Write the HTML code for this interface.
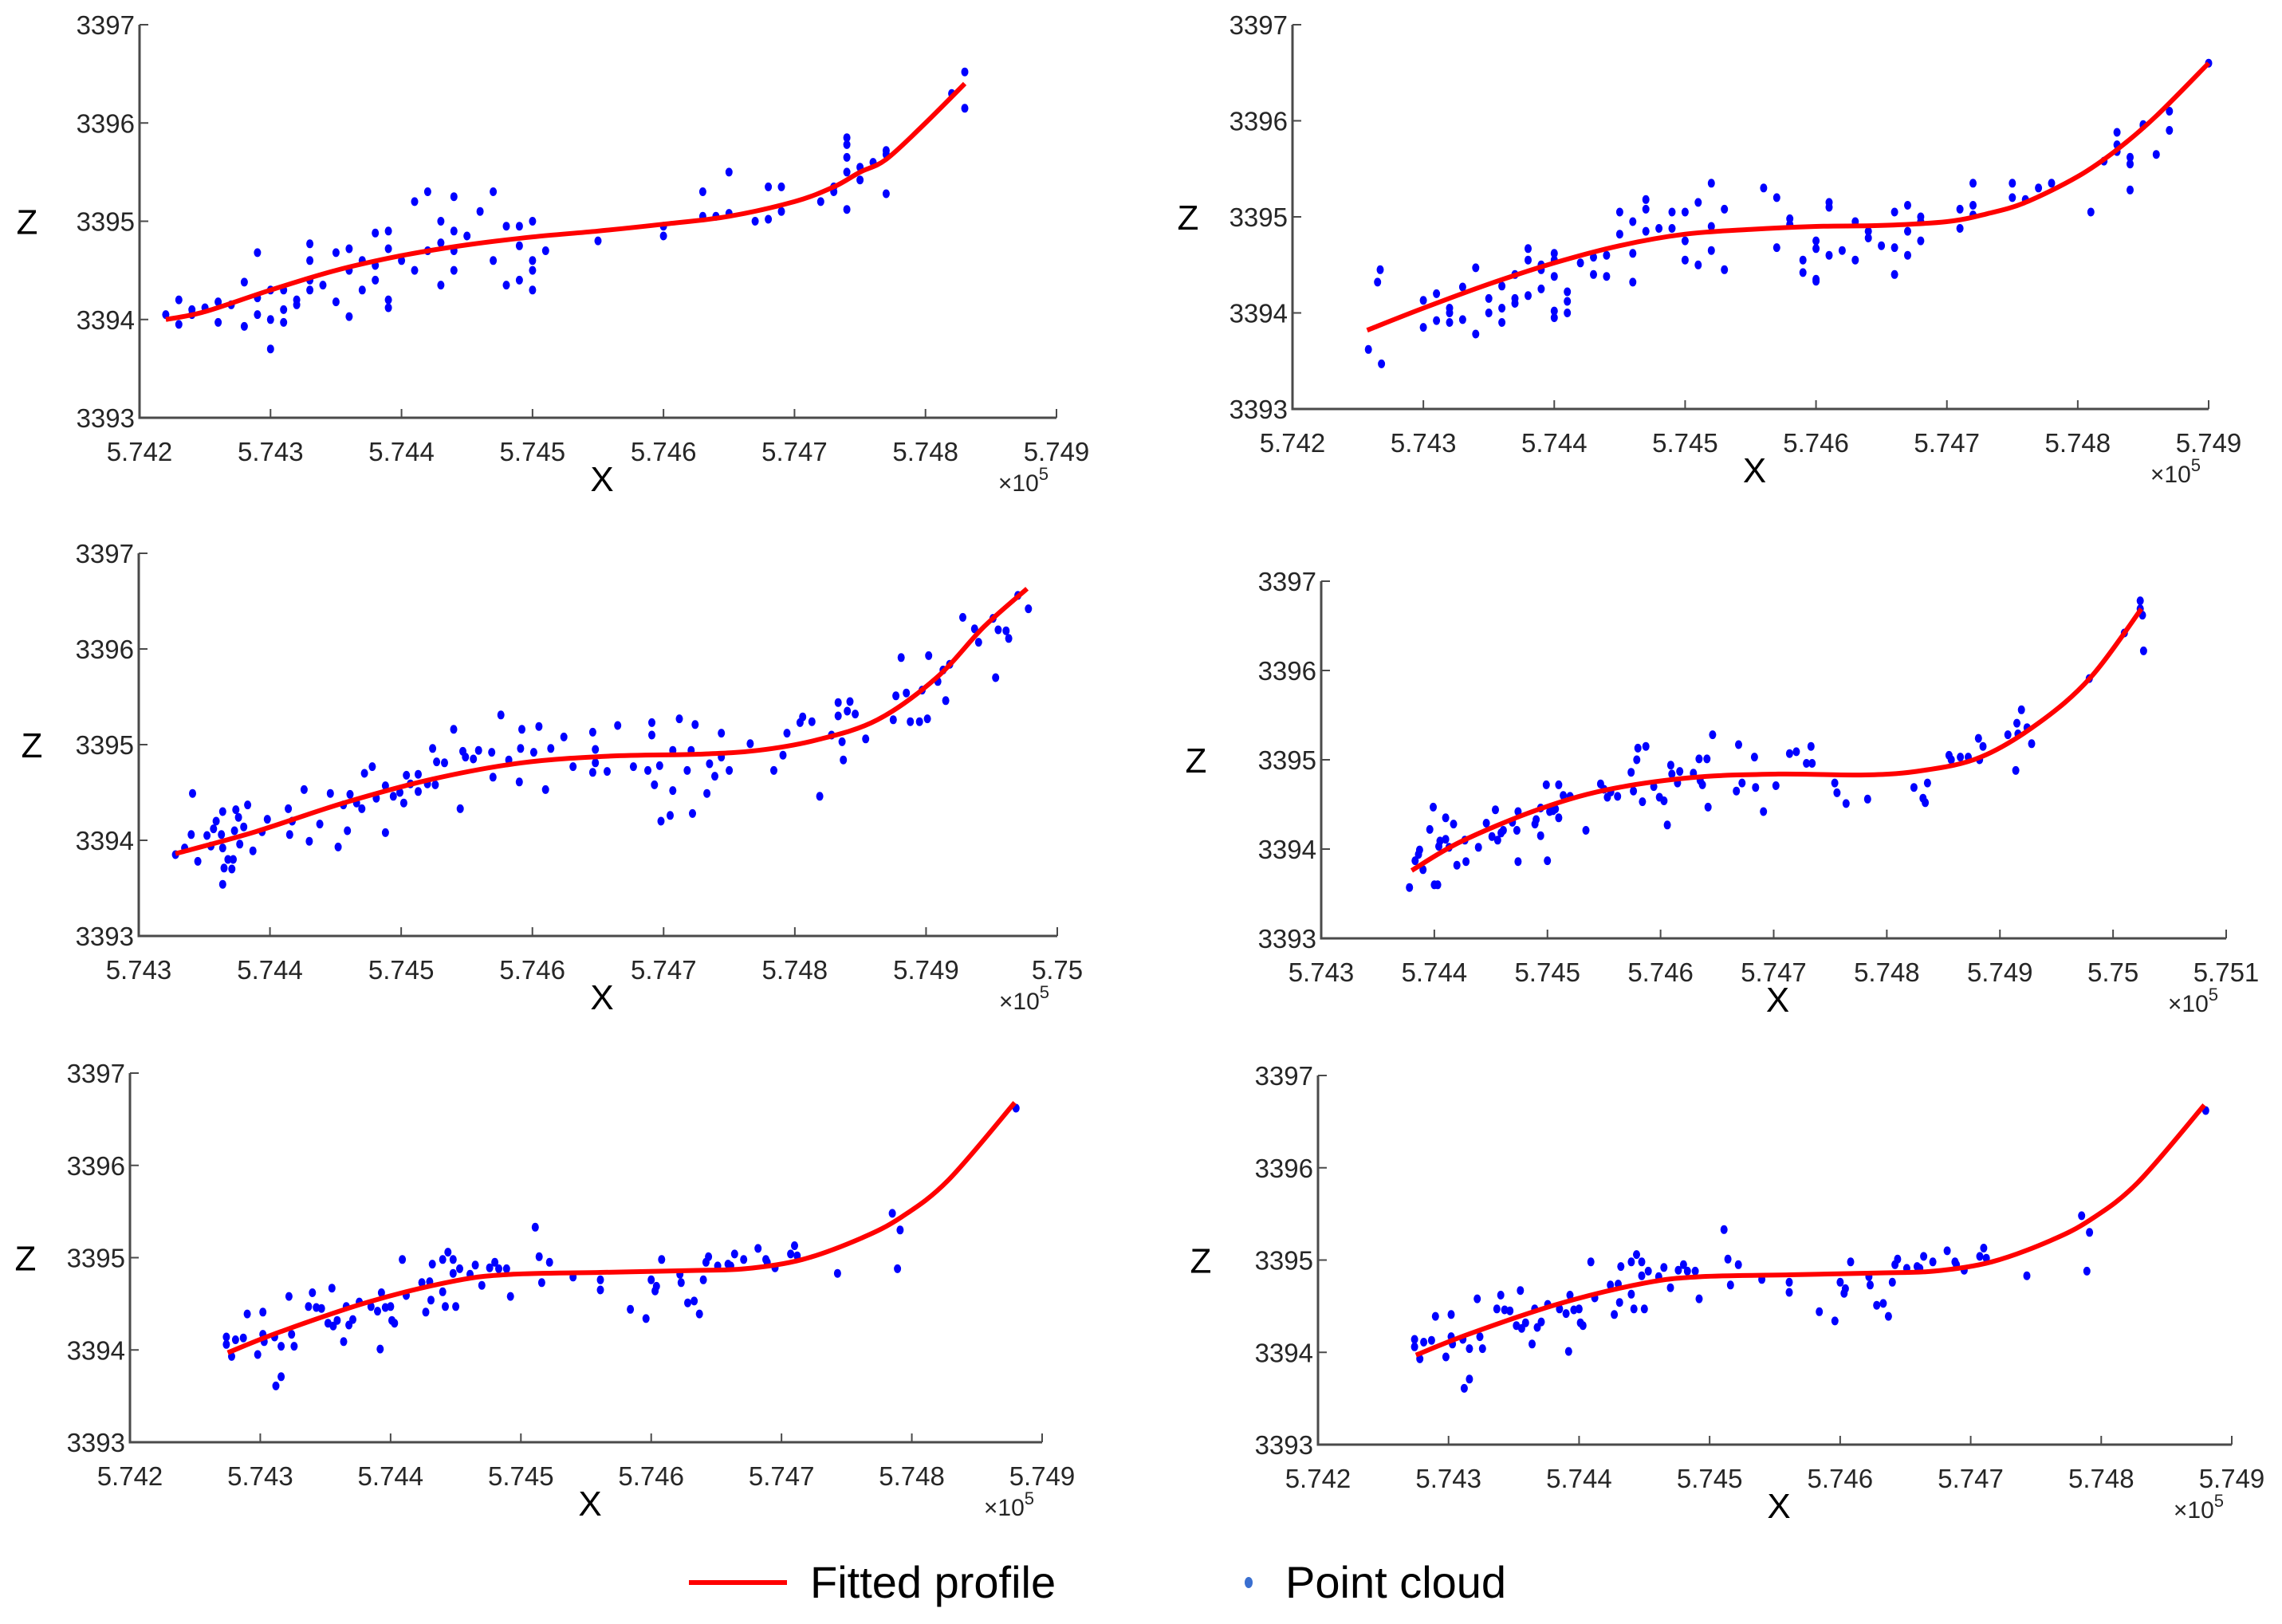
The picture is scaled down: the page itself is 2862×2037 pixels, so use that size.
<!DOCTYPE html>
<html><head><meta charset="utf-8">
<style>
html,body{margin:0;padding:0;background:#fff;}
svg{display:block;font-family:"Liberation Sans",Arial,sans-serif;}
</style></head>
<body>
<svg id="fig" width="2862" height="2037" viewBox="0 0 2862 2037" xmlns="http://www.w3.org/2000/svg">
<rect width="2862" height="2037" fill="#fff"/>
<g>
 <line x1="864" y1="1985" x2="987" y2="1985" stroke="#ff0000" stroke-width="6"/>
 <text x="1016" y="2004" font-size="56" fill="#000">Fitted profile</text>
 <ellipse cx="1566" cy="1985" rx="5" ry="7" fill="#3a6fd0"/>
 <text x="1612" y="2004" font-size="56" fill="#000">Point cloud</text>
</g>
</svg>
<script>
// ---------- Data ----------
const zTicks = [3393, 3394, 3395, 3396, 3397];
const xTicksA = [5.742, 5.743, 5.744, 5.745, 5.746, 5.747, 5.748, 5.749];
const xTickLabelsA = ["5.742","5.743","5.744","5.745","5.746","5.747","5.748","5.749"];
const xTicksB = [5.743, 5.744, 5.745, 5.746, 5.747, 5.748, 5.749, 5.750];
const xTickLabelsB = ["5.743","5.744","5.745","5.746","5.747","5.748","5.749","5.75"];
const xTicksC = [5.743, 5.744, 5.745, 5.746, 5.747, 5.748, 5.749, 5.750, 5.751];
const xTickLabelsC = ["5.743","5.744","5.745","5.746","5.747","5.748","5.749","5.75","5.751"];

const p1Curve = [[5.7422,3394.0],[5.7425,3394.08],[5.7430,3394.3],[5.7435,3394.5],[5.7440,3394.65],[5.7445,3394.76],[5.7450,3394.84],[5.7455,3394.9],[5.7460,3394.97],[5.7465,3395.05],[5.7470,3395.2],[5.7473,3395.35],[5.7475,3395.5],[5.7477,3395.63],[5.7480,3396.0],[5.7483,3396.4]];
const p1Points = [[5.7422,3394.05],[5.7423,3394.2],[5.7423,3393.95],[5.7424,3394.05],[5.7424,3394.1],[5.7425,3394.12],[5.7426,3394.18],[5.7426,3393.97],[5.7427,3394.15],[5.7428,3393.93],[5.7428,3394.38],[5.7429,3394.22],[5.7429,3394.68],[5.7429,3394.05],[5.7430,3394.3],[5.7430,3393.7],[5.7430,3394.0],[5.7431,3394.1],[5.7431,3394.3],[5.7431,3393.97],[5.7432,3394.2],[5.7432,3394.15],[5.7433,3394.4],[5.7433,3394.3],[5.7433,3394.77],[5.7433,3394.6],[5.7434,3394.35],[5.7435,3394.68],[5.7435,3394.18],[5.7436,3394.72],[5.7436,3394.5],[5.7436,3394.03],[5.7437,3394.6],[5.7437,3394.3],[5.7438,3394.88],[5.7438,3394.55],[5.7438,3394.4],[5.7439,3394.2],[5.7439,3394.12],[5.7439,3394.9],[5.7439,3394.72],[5.7440,3394.6],[5.7441,3394.5],[5.7441,3395.2],[5.7442,3395.3],[5.7442,3394.7],[5.7443,3394.78],[5.7443,3394.35],[5.7443,3395.0],[5.7444,3394.7],[5.7444,3395.25],[5.7444,3394.9],[5.7444,3394.5],[5.7445,3394.85],[5.7446,3395.1],[5.7447,3395.3],[5.7447,3394.6],[5.7448,3394.95],[5.7448,3394.35],[5.7449,3394.4],[5.7449,3394.75],[5.7449,3394.95],[5.7450,3395.0],[5.7450,3394.3],[5.7450,3394.5],[5.7450,3394.6],[5.7451,3394.7],[5.7455,3394.8],[5.7460,3394.95],[5.7460,3394.85],[5.7463,3395.05],[5.7463,3395.3],[5.7464,3395.05],[5.7465,3395.5],[5.7465,3395.08],[5.7467,3395.0],[5.7468,3395.35],[5.7468,3395.02],[5.7469,3395.1],[5.7469,3395.35],[5.7472,3395.2],[5.7473,3395.3],[5.7473,3395.35],[5.7474,3395.12],[5.7474,3395.5],[5.7474,3395.85],[5.7474,3395.78],[5.7474,3395.65],[5.7475,3395.42],[5.7475,3395.55],[5.7476,3395.6],[5.7477,3395.68],[5.7477,3395.28],[5.7477,3395.72],[5.7482,3396.3],[5.7483,3396.52],[5.7483,3396.15]];

const p2Curve = [[5.74257,3393.82],[5.7430,3394.05],[5.7435,3394.3],[5.7440,3394.52],[5.7445,3394.7],[5.7450,3394.82],[5.7455,3394.87],[5.7460,3394.9],[5.7465,3394.91],[5.7470,3394.95],[5.7473,3395.03],[5.7476,3395.15],[5.7480,3395.42],[5.7483,3395.7],[5.7486,3396.05],[5.7490,3396.6]];
const p2Points = [[5.74258,3393.62],[5.74265,3394.32],[5.74267,3394.45],[5.74268,3393.47],[5.7430,3394.13],[5.7430,3393.85],[5.7431,3393.92],[5.7431,3394.2],[5.7432,3394.05],[5.7432,3393.9],[5.7432,3394.0],[5.7433,3394.27],[5.7433,3393.93],[5.7434,3393.78],[5.7434,3394.47],[5.7435,3394.15],[5.7435,3394.0],[5.7436,3394.28],[5.7436,3393.9],[5.7436,3394.05],[5.7437,3394.15],[5.7437,3394.4],[5.7437,3394.1],[5.7438,3394.67],[5.7438,3394.55],[5.7438,3394.18],[5.7439,3394.5],[5.7439,3394.45],[5.7439,3394.25],[5.7440,3394.55],[5.7440,3394.62],[5.7440,3393.95],[5.7440,3394.02],[5.7440,3394.38],[5.7441,3394.22],[5.7441,3394.0],[5.7441,3394.12],[5.7442,3394.52],[5.7443,3394.58],[5.7443,3394.4],[5.7444,3394.6],[5.7444,3394.38],[5.7445,3395.05],[5.7445,3394.82],[5.7446,3394.62],[5.7446,3394.95],[5.7446,3394.32],[5.7447,3394.85],[5.7447,3395.18],[5.7447,3395.08],[5.7448,3394.88],[5.7449,3395.05],[5.7449,3394.88],[5.7450,3395.05],[5.7450,3394.75],[5.7450,3394.55],[5.7451,3395.15],[5.7451,3394.5],[5.7452,3394.9],[5.7452,3395.35],[5.7452,3394.65],[5.7453,3395.08],[5.7453,3394.45],[5.7456,3395.3],[5.7457,3395.2],[5.7457,3394.68],[5.7458,3394.98],[5.7458,3394.92],[5.7459,3394.55],[5.7459,3394.42],[5.7460,3394.67],[5.7460,3394.33],[5.7460,3394.75],[5.7460,3394.35],[5.7461,3394.6],[5.7461,3395.15],[5.7461,3395.1],[5.7462,3394.65],[5.7463,3394.95],[5.7463,3394.55],[5.7464,3394.85],[5.7464,3394.78],[5.7465,3394.7],[5.7466,3394.68],[5.7466,3394.4],[5.7466,3395.05],[5.7467,3394.85],[5.7467,3395.12],[5.7467,3394.6],[5.7468,3394.95],[5.7468,3395.0],[5.7468,3394.75],[5.7471,3395.08],[5.7471,3394.88],[5.7472,3395.35],[5.7472,3395.12],[5.7472,3395.02],[5.7475,3395.35],[5.7475,3395.2],[5.7476,3395.18],[5.7477,3395.3],[5.7478,3395.35],[5.7481,3395.05],[5.7482,3395.58],[5.7483,3395.68],[5.7483,3395.88],[5.7483,3395.75],[5.7484,3395.28],[5.7484,3395.55],[5.7484,3395.62],[5.7485,3395.95],[5.7485,3395.96],[5.7486,3395.65],[5.7487,3396.1],[5.7487,3395.9],[5.7490,3396.6]];

const p3Curve = [[5.74328,3393.86],[5.74389,3394.09],[5.74456,3394.39],[5.74524,3394.64],[5.74592,3394.81],[5.74659,3394.88],[5.74727,3394.9],[5.74772,3394.94],[5.74817,3395.05],[5.74863,3395.26],[5.74908,3395.7],[5.74944,3396.23],[5.74977,3396.63]];
const p3Points = [[5.74328,3393.85],[5.74335,3393.92],[5.74341,3394.49],[5.74340,3394.06],[5.74345,3393.78],[5.74352,3394.05],[5.74355,3393.94],[5.74357,3394.12],[5.74359,3394.2],[5.74363,3394.06],[5.74364,3394.3],[5.74364,3393.92],[5.74365,3393.71],[5.74364,3393.54],[5.74368,3393.8],[5.74371,3393.7],[5.74372,3393.8],[5.74373,3394.1],[5.74374,3394.32],[5.74376,3394.24],[5.74377,3393.96],[5.74380,3394.14],[5.74383,3394.37],[5.74387,3393.89],[5.74394,3394.09],[5.74398,3394.22],[5.74414,3394.33],[5.74415,3394.06],[5.74417,3394.2],[5.74426,3394.53],[5.74430,3393.99],[5.74438,3394.17],[5.74446,3394.49],[5.74452,3393.93],[5.74456,3394.37],[5.74459,3394.1],[5.74461,3394.48],[5.74466,3394.39],[5.74470,3394.33],[5.74472,3394.7],[5.74478,3394.77],[5.74481,3394.44],[5.74488,3394.08],[5.74488,3394.57],[5.74494,3394.46],[5.74499,3394.5],[5.74502,3394.39],[5.74504,3394.68],[5.74507,3394.59],[5.74513,3394.69],[5.74513,3394.51],[5.74520,3394.59],[5.74524,3394.96],[5.74526,3394.58],[5.74527,3394.82],[5.74533,3394.81],[5.74540,3395.16],[5.74545,3394.33],[5.74547,3394.93],[5.74549,3394.87],[5.74555,3394.85],[5.74559,3394.94],[5.74569,3394.92],[5.74570,3394.66],[5.74576,3395.31],[5.74582,3394.84],[5.74590,3394.61],[5.74591,3394.96],[5.74592,3395.16],[5.74601,3394.92],[5.74605,3395.19],[5.74610,3394.53],[5.74614,3394.96],[5.74624,3395.08],[5.74631,3394.77],[5.74646,3395.13],[5.74646,3394.71],[5.74648,3394.95],[5.74648,3394.81],[5.74657,3394.72],[5.74665,3395.2],[5.74677,3394.77],[5.74688,3394.73],[5.74691,3395.23],[5.74691,3395.1],[5.74693,3394.58],[5.74697,3394.78],[5.74698,3394.2],[5.74705,3394.26],[5.74707,3394.52],[5.74707,3394.94],[5.74712,3395.27],[5.74718,3394.73],[5.74721,3394.94],[5.74722,3394.28],[5.74724,3395.21],[5.74733,3394.49],[5.74735,3394.8],[5.74739,3394.67],[5.74744,3395.12],[5.74744,3394.87],[5.74750,3394.73],[5.74766,3395.01],[5.74784,3394.73],[5.74791,3394.89],[5.74794,3395.12],[5.74804,3395.23],[5.74806,3395.29],[5.74813,3395.24],[5.74819,3394.46],[5.74828,3395.1],[5.74833,3395.3],[5.74833,3395.44],[5.74836,3395.03],[5.74837,3394.84],[5.74840,3395.35],[5.74842,3395.45],[5.74846,3395.32],[5.74854,3395.06],[5.74875,3395.26],[5.74877,3395.51],[5.74881,3395.91],[5.74885,3395.54],[5.74888,3395.24],[5.74895,3395.24],[5.74897,3395.57],[5.74901,3395.27],[5.74902,3395.93],[5.74909,3395.66],[5.74913,3395.78],[5.74915,3395.46],[5.74918,3395.84],[5.74928,3396.33],[5.74937,3396.21],[5.74940,3396.07],[5.74951,3396.32],[5.74953,3395.7],[5.74955,3396.2],[5.74961,3396.19],[5.74963,3396.11],[5.74970,3396.56],[5.74978,3396.42]];

const p4Curve = [[5.74380,3393.76],[5.74423,3394.08],[5.74489,3394.43],[5.74551,3394.66],[5.74627,3394.8],[5.74704,3394.84],[5.74781,3394.83],[5.74832,3394.88],[5.74883,3395.03],[5.74934,3395.41],[5.74980,3395.92],[5.75025,3396.69]];
const p4Points = [[5.74378,3393.57],[5.74383,3393.87],[5.74386,3393.94],[5.74387,3393.99],[5.74390,3393.77],[5.74396,3394.22],[5.74399,3394.47],[5.74400,3393.6],[5.74403,3393.6],[5.74404,3394.03],[5.74405,3394.09],[5.74410,3394.35],[5.74410,3394.11],[5.74413,3394.02],[5.74417,3394.28],[5.74420,3393.82],[5.74427,3394.1],[5.74428,3393.86],[5.74439,3394.02],[5.74446,3394.29],[5.74451,3394.14],[5.74454,3394.44],[5.74456,3394.1],[5.74459,3394.18],[5.74461,3394.21],[5.74469,3394.3],[5.74473,3394.21],[5.74474,3394.42],[5.74474,3393.86],[5.74489,3394.28],[5.74490,3394.33],[5.74494,3394.46],[5.74494,3394.15],[5.74499,3394.72],[5.74500,3393.87],[5.74502,3394.42],[5.74505,3394.43],[5.74507,3394.45],[5.74510,3394.72],[5.74510,3394.35],[5.74514,3394.6],[5.74520,3394.59],[5.74534,3394.21],[5.74547,3394.73],[5.74550,3394.67],[5.74553,3394.58],[5.74556,3394.64],[5.74562,3394.59],[5.74574,3394.86],[5.74576,3394.65],[5.74579,3395.0],[5.74580,3395.13],[5.74584,3394.53],[5.74587,3395.15],[5.74594,3394.7],[5.74599,3394.58],[5.74603,3394.54],[5.74606,3394.27],[5.74609,3394.94],[5.74610,3394.84],[5.74615,3394.74],[5.74617,3394.87],[5.74629,3394.85],[5.74634,3395.01],[5.74635,3394.77],[5.74637,3394.72],[5.74641,3395.01],[5.74642,3394.47],[5.74646,3395.28],[5.74667,3394.65],[5.74669,3395.17],[5.74672,3394.74],[5.74683,3395.03],[5.74684,3394.69],[5.74691,3394.42],[5.74702,3394.71],[5.74714,3395.07],[5.74720,3395.09],[5.74729,3394.96],[5.74733,3395.15],[5.74734,3394.96],[5.74754,3394.74],[5.74756,3394.63],[5.74764,3394.51],[5.74783,3394.56],[5.74824,3394.69],[5.74832,3394.57],[5.74834,3394.52],[5.74836,3394.74],[5.74855,3395.05],[5.74857,3395.0],[5.74865,3395.03],[5.74872,3395.03],[5.74881,3395.24],[5.74882,3395.0],[5.74885,3395.15],[5.74907,3395.28],[5.74914,3394.88],[5.74915,3395.41],[5.74916,3395.29],[5.74919,3395.56],[5.74924,3395.36],[5.74928,3395.18],[5.74979,3395.91],[5.75010,3396.42],[5.75024,3396.78],[5.75024,3396.69],[5.75026,3396.62],[5.75027,3396.22]];

const p5Curve = [[5.74275,3393.97],[5.74316,3394.2],[5.74383,3394.52],[5.74450,3394.75],[5.74494,3394.82],[5.74561,3394.84],[5.74628,3394.86],[5.74672,3394.88],[5.74716,3394.98],[5.74761,3395.21],[5.74792,3395.44],[5.74828,3395.84],[5.74879,3396.68]];
const p5Points = [[5.74274,3394.14],[5.74274,3394.06],[5.74278,3393.93],[5.74281,3394.11],[5.74287,3394.13],[5.74290,3394.39],[5.74298,3393.95],[5.74302,3394.41],[5.74302,3394.17],[5.74303,3394.09],[5.74311,3394.14],[5.74312,3393.61],[5.74316,3393.71],[5.74316,3394.04],[5.74322,3394.58],[5.74324,3394.17],[5.74326,3394.04],[5.74337,3394.47],[5.74340,3394.62],[5.74343,3394.46],[5.74347,3394.45],[5.74352,3394.29],[5.74355,3394.67],[5.74356,3394.26],[5.74359,3394.32],[5.74364,3394.09],[5.74366,3394.47],[5.74368,3394.27],[5.74371,3394.33],[5.74376,3394.52],[5.74385,3394.47],[5.74390,3394.42],[5.74392,3394.01],[5.74393,3394.62],[5.74396,3394.46],[5.74400,3394.47],[5.74401,3394.32],[5.74403,3394.29],[5.74409,3394.98],[5.74412,3394.59],[5.74424,3394.73],[5.74427,3394.41],[5.74430,3394.74],[5.74431,3394.54],[5.74432,3394.93],[5.74440,3394.63],[5.74440,3394.98],[5.74442,3394.47],[5.74444,3395.06],[5.74448,3394.83],[5.74448,3394.98],[5.74450,3394.47],[5.74453,3394.88],[5.74461,3394.82],[5.74465,3394.92],[5.74470,3394.7],[5.74476,3394.89],[5.74480,3394.95],[5.74483,3394.88],[5.74489,3394.88],[5.74492,3394.58],[5.74511,3395.33],[5.74514,3395.01],[5.74516,3394.73],[5.74522,3394.95],[5.74540,3394.79],[5.74561,3394.76],[5.74561,3394.65],[5.74584,3394.44],[5.74596,3394.34],[5.74600,3394.76],[5.74603,3394.64],[5.74604,3394.69],[5.74608,3394.98],[5.74622,3394.82],[5.74623,3394.73],[5.74628,3394.51],[5.74633,3394.53],[5.74637,3394.39],[5.74640,3394.76],[5.74642,3394.95],[5.74644,3395.01],[5.74651,3394.91],[5.74659,3394.93],[5.74661,3394.91],[5.74664,3395.04],[5.74671,3394.98],[5.74682,3395.1],[5.74688,3394.98],[5.74689,3394.95],[5.74695,3394.89],[5.74707,3395.04],[5.74710,3395.13],[5.74712,3395.02],[5.74743,3394.83],[5.74785,3395.48],[5.74789,3394.88],[5.74791,3395.3],[5.74880,3396.62]];

// ---------- Layout (pixels, not data) ----------
const panels = [
 {name:"panel-top-left", pts:p1Points, curve:p1Curve, xTicks:xTicksA, xLabels:xTickLabelsA, x0:175, x1:1325, y0:524, y1:31, zx:34},
 {name:"panel-top-right", pts:p2Points, curve:p2Curve, xTicks:xTicksA, xLabels:xTickLabelsA, x0:1621, x1:2770, y0:513, y1:31, zx:1490},
 {name:"panel-middle-left", pts:p3Points, curve:p3Curve, xTicks:xTicksB, xLabels:xTickLabelsB, x0:174, x1:1326, y0:1174, y1:694, zx:40},
 {name:"panel-middle-right", pts:p4Points, curve:p4Curve, xTicks:xTicksC, xLabels:xTickLabelsC, x0:1657, x1:2792, y0:1177, y1:729, zx:1500},
 {name:"panel-bottom-left", pts:p5Points, curve:p5Curve, xTicks:xTicksA, xLabels:xTickLabelsA, x0:163, x1:1307, y0:1809, y1:1346, zx:32},
 {name:"panel-bottom-right", pts:p5Points, curve:p5Curve, xTicks:xTicksA, xLabels:xTickLabelsA, x0:1653, x1:2799, y0:1812, y1:1349, zx:1506}
];

const NS = "http://www.w3.org/2000/svg";
const svg = document.getElementById("fig");
function mk(tag, attrs, parent){
  const e = document.createElementNS(NS, tag);
  for (const k in attrs) e.setAttribute(k, attrs[k]);
  parent.appendChild(e);
  return e;
}
function catmull(p){
  let d = "M"+p[0][0].toFixed(1)+","+p[0][1].toFixed(1);
  for (let i=0;i<p.length-1;i++){
    const a=p[Math.max(0,i-1)], b=p[i], c=p[i+1], e=p[Math.min(p.length-1,i+2)];
    const c1=[b[0]+(c[0]-a[0])/6, b[1]+(c[1]-a[1])/6];
    const c2=[c[0]-(e[0]-b[0])/6, c[1]-(e[1]-b[1])/6];
    d += " C"+c1[0].toFixed(1)+","+c1[1].toFixed(1)+" "+c2[0].toFixed(1)+","+c2[1].toFixed(1)+" "+c[0].toFixed(1)+","+c[1].toFixed(1);
  }
  return d;
}

panels.forEach(P => {
  const xmin = P.xTicks[0], xmax = P.xTicks[P.xTicks.length-1];
  const zmin = zTicks[0], zmax = zTicks[zTicks.length-1];
  const sx = v => P.x0 + (v - xmin) / (xmax - xmin) * (P.x1 - P.x0);
  const sy = v => P.y0 - (v - zmin) / (zmax - zmin) * (P.y0 - P.y1);
  const g = mk("g", {}, svg);
  
  

  const ax = mk("path", {d:`M${P.x0},${P.y1} V${P.y0} H${P.x1}`, fill:"none", stroke:"#4a4a4a", "stroke-width":3}, g);
  
  

  zTicks.forEach(t => {
    const y = sy(t);
    const tk = mk("line", {x1:P.x0, y1:y, x2:P.x0+11, y2:y, stroke:"#4a4a4a", "stroke-width":2}, g);
    
    
    const lb = mk("text", {x:P.x0-6, y:y+12, "text-anchor":"end", "font-size":33, fill:"#262626"}, g);
    lb.textContent = String(t);
    
    
  });
  P.xTicks.forEach((t, i) => {
    const x = sx(t);
    const tk = mk("line", {x1:x, y1:P.y0, x2:x, y2:P.y0-11, stroke:"#4a4a4a", "stroke-width":2}, g);
    
    
    const lb = mk("text", {x:x, y:P.y0+54, "text-anchor":"middle", "font-size":33, fill:"#262626"}, g);
    lb.textContent = P.xLabels[i];
    
    
  });
  const xt = mk("text", {x:(P.x0+P.x1)/2 + 5, y:P.y0+92, "text-anchor":"middle", "font-size":44, fill:"#000"}, g);
  xt.textContent = "X";
  
  
  const zt = mk("text", {x:P.zx, y:sy(3395)+16, "text-anchor":"middle", "font-size":44, fill:"#000"}, g);
  zt.textContent = "Z";
  
  
  const ex = mk("text", {x:P.x1-10, y:P.y0+92, "text-anchor":"end", "font-size":30, fill:"#262626"}, g);
  ex.innerHTML = '×10<tspan dy="-14" font-size="22">5</tspan>';
  
  

  P.pts.forEach(p => {
    const c = mk("ellipse", {cx:sx(p[0]).toFixed(1), cy:sy(p[1]).toFixed(1), rx:4.5, ry:5.5, fill:"#0000ff"}, g);
    
    
  });
  const cp = P.curve.map(p => [sx(p[0]), sy(p[1])]);
  const ln = mk("path", {d:catmull(cp), fill:"none", stroke:"#ff0000", "stroke-width":6, "stroke-linecap":"butt"}, g);
  
  
});
</script>
</body></html>
